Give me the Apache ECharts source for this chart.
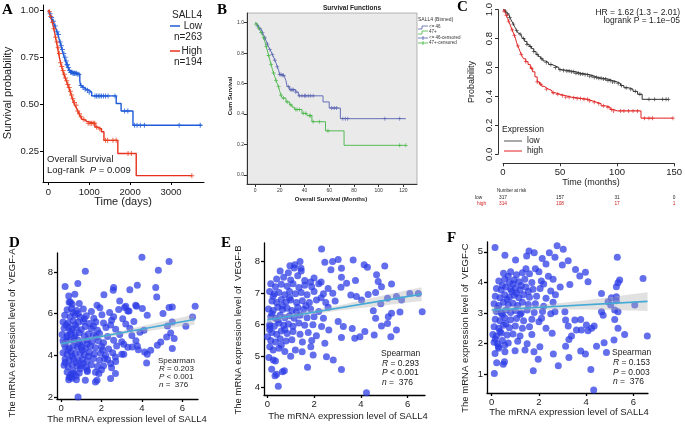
<!DOCTYPE html>
<html><head><meta charset="utf-8">
<script src="https://cdn.jsdelivr.net/npm/echarts@6.0.0/dist/echarts.min.js"></script>
<style>html,body{margin:0;padding:0;background:#fff}#c{width:685px;height:426px}</style>
</head><body><div id="c"></div>
<script>
// ===== Panel A (days, survival) =====
const aLow = [[0,1],[15,0.99],[35,0.98],[55,0.97],[75,0.96],[95,0.95],[115,0.94],[135,0.93],[160,0.915],[185,0.9],[210,0.885],[235,0.87],[260,0.85],[285,0.83],[310,0.81],[335,0.79],[360,0.77],[390,0.75],[420,0.73],[450,0.71],[480,0.695],[510,0.68],[540,0.67],[600,0.665],[700,0.66],[770,0.625],[790,0.6],[820,0.59],[870,0.58],[930,0.575],[1000,0.565],[1060,0.545],[1660,0.505],[1780,0.465],[2070,0.39],[3750,0.39]];
const aHigh = [[0,1],[15,0.99],[35,0.98],[55,0.965],[75,0.95],[95,0.935],[115,0.92],[135,0.9],[155,0.88],[175,0.855],[200,0.83],[225,0.8],[250,0.77],[275,0.745],[300,0.72],[325,0.7],[350,0.68],[380,0.66],[410,0.64],[440,0.625],[470,0.605],[500,0.59],[530,0.57],[560,0.55],[590,0.53],[620,0.51],[650,0.495],[690,0.48],[720,0.465],[750,0.45],[790,0.435],[830,0.42],[880,0.41],[940,0.4],[1140,0.38],[1200,0.37],[1300,0.355],[1360,0.31],[1700,0.24],[2150,0.123],[3510,0.123]];
const aLowCens = [45,80,130,170,215,250,290,320,345,380,410,440,455,470,490,520,545,560,580,600,620,640,660,690,720,750,800,850,900,960,1000,1140,1180,1220,1260,1300,1350,1400,1460,1630,1865,1945,2110,2170,2250,2350,3200,3715];
const aHighCens = [30,60,100,140,180,210,240,270,300,330,360,390,420,450,480,510,540,570,600,640,680,720,760,800,870,975,1020,1060,1100,1135,1180,1260,1400,1450,1580,1660,1950,2030,3510];
const aXTicks = [0,1000,2000,3000];
const aYTicks = [0.25,0.5,0.75,1.0];
const aLegend = ["SALL4","Low","n=263","High","n=194"];

// ===== Panel B (months, cum survival) =====
const bLow = [[0,1],[1,0.99],[2,0.98],[3,0.97],[4,0.96],[5,0.95],[6,0.935],[7,0.92],[8,0.9],[9,0.88],[10,0.86],[11,0.84],[12,0.825],[13,0.81],[14,0.79],[15,0.775],[16,0.755],[17,0.735],[18,0.71],[19,0.69],[20,0.66],[22,0.655],[24,0.64],[25,0.62],[26,0.58],[28,0.56],[33,0.545],[35,0.52],[55,0.48],[60,0.44],[69,0.37],[122,0.37]];
const bHigh = [[0,1],[1,0.99],[2,0.98],[3,0.965],[4,0.95],[5,0.935],[6,0.92],[7,0.9],[8,0.875],[9,0.845],[10,0.815],[11,0.785],[12,0.755],[13,0.725],[14,0.695],[15,0.67],[16,0.645],[17,0.62],[18,0.6],[19,0.58],[20,0.55],[21,0.525],[22,0.505],[25,0.48],[28,0.46],[30,0.445],[32,0.43],[38,0.405],[42,0.39],[46,0.35],[57,0.29],[72,0.195],[122,0.195]];
const bLowCens = [2,4,6,8,10,12,14,16,18,20,21,22,23,27,29,30,31,33,36,38,40,41,43,45,47,62,64,66,71,73,75,105,117];
const bHighCens = [1,3,5,7,9,11,13,15,17,19,21,23,26,29,33,34,36,39,41,44,45,47,52,59,117,122];
const bXTicks = [0,20,40,60,80,100,120];
const bYTicks = [0,0.2,0.4,0.6,0.8,1.0];
const bLegend = ["<= 46","47+","<= 46-censored","47+-censored"];

// ===== Panel C (months, probability) =====
const cLow = [[0,1],[1,0.995],[2,0.99],[3,0.98],[4,0.97],[5,0.96],[6,0.945],[7,0.93],[8,0.915],[9,0.9],[10,0.885],[11,0.87],[12,0.855],[13,0.84],[14,0.83],[15.6,0.82],[17,0.8],[19,0.78],[21,0.76],[23,0.745],[25,0.73],[27,0.71],[29,0.69],[31,0.675],[33,0.66],[35,0.645],[37,0.635],[40,0.62],[43,0.61],[46,0.6],[49,0.585],[52,0.58],[56,0.575],[60,0.57],[64,0.56],[68,0.555],[72,0.55],[76,0.54],[80,0.53],[84,0.525],[88,0.52],[92,0.51],[96,0.5],[100,0.49],[103,0.475],[106,0.46],[110,0.45],[114,0.435],[118,0.415],[122,0.38],[145,0.38]];
const cHigh = [[0,1],[1,0.99],[2,0.975],[3,0.96],[4,0.94],[5,0.92],[6,0.9],[7,0.88],[8,0.86],[9,0.84],[10,0.82],[11,0.8],[12,0.77],[13,0.75],[14,0.73],[15,0.71],[16,0.69],[17,0.675],[18,0.66],[20,0.64],[22,0.62],[24,0.595],[26,0.57],[28,0.535],[30,0.5],[32,0.485],[34,0.47],[36,0.46],[38,0.45],[40,0.44],[43,0.425],[46,0.415],[50,0.405],[55,0.395],[60,0.39],[65,0.385],[70,0.38],[75,0.37],[78,0.36],[82,0.35],[86,0.335],[90,0.325],[94,0.31],[97,0.3],[100,0.3],[121,0.25],[149,0.25]];
const cLowCens = [2,4,6,9,12,15,18,21,24,27,30,34,38,42,46,50,53,56,58,60,62,64,66,68,70,72,74,76,78,80,82,84,86,88,90,92,94,96,98,101,104,108,112,116,120,128,133,140,143,145];
const cHighCens = [1,3,5,8,10,13,16,20,25,30,33,38,44,48,52,55,58,62,65,68,71,74,76,80,84,88,92,95,97,103,106,110,114,118,124,128,131,149];
const cXTicks = [0,50,100,150];
const cYTicks = [0,0.2,0.4,0.6,0.8,1.0];
const riskTimes = [0,50,100,150];
const riskLow = [317,157,31,0];
const riskHigh = [314,108,17,1];

// ===== Panels D, E, F (SALL4 vs VEGF) =====
const scatD = [[4.0,8.7],[5.34,8.5],[4.81,8.08],[1.2,8.03],[0.83,7.44],[0.2,7.3],[2.6,7.25],[2.58,7.12],[3.4,7.15],[3.77,7.36],[4.68,7.25],[4.73,6.8],[0.68,6.93],[0.38,6.85],[2.12,6.9],[0.46,6.56],[0.55,6.45],[0.9,6.48],[1.78,6.4],[2.9,6.6],[3.14,6.29],[3.2,6.35],[3.73,6.35],[3.69,6.4],[4.02,6.24],[3.36,6.13],[4.26,5.92],[5.5,6.32],[5.34,6.29],[6.63,6.35],[5.04,6.0],[6.5,5.84],[6.17,5.39],[5.5,5.6],[5.26,5.4],[5.42,5.07],[5.22,4.88],[5.59,4.8],[5.5,4.32],[4.76,4.48],[4.93,4.64],[4.43,4.24],[4.13,4.16],[4.26,4.05],[4.23,3.63],[3.82,4.27],[3.77,4.45],[3.52,4.4],[3.1,4.53],[3.1,4.05],[2.69,3.92],[2.45,3.6],[2.69,3.12],[2.45,2.88],[1.78,2.8],[1.7,2.72],[1.2,2.8],[0.76,2.83],[0.84,2.0],[0.46,2.96],[0.38,2.83],[1.87,3.12],[1.29,3.28],[0.63,3.12],
[0.3,6.18],[0.52,6.25],[0.78,6.15],[1.1,6.22],[1.5,6.1],[1.92,6.28],[2.4,6.05],[2.85,6.2],[3.3,6.12],
[0.18,5.92],[0.45,5.85],[0.7,5.95],[0.95,5.82],[1.25,5.9],[1.62,5.78],[2.02,5.95],[2.6,5.85],[3.05,5.75],
[0.1,5.6],[0.35,5.55],[0.6,5.65],[0.85,5.58],[1.1,5.62],[1.4,5.52],[1.72,5.6],[2.1,5.55],[2.5,5.68],[3.2,5.5],[3.6,5.62],
[0.15,5.3],[0.38,5.35],[0.55,5.25],[0.75,5.32],[1.0,5.22],[1.2,5.38],[1.5,5.28],[1.8,5.2],[2.22,5.33],[2.7,5.25],[3.4,5.3],[4.1,5.2],
[0.05,5.0],[0.3,4.95],[0.5,5.05],[0.7,4.98],[0.9,5.08],[1.15,4.92],[1.35,5.02],[1.6,4.96],[1.9,5.05],[2.3,4.9],[2.9,5.0],[3.5,4.95],[3.9,5.1],
[0.1,4.7],[0.25,4.65],[0.45,4.75],[0.65,4.68],[0.85,4.72],[1.05,4.62],[1.3,4.75],[1.55,4.66],[1.85,4.7],[2.1,4.6],[2.6,4.72],[3.0,4.65],[3.7,4.7],
[0.2,4.42],[0.4,4.35],[0.6,4.45],[0.8,4.38],[1.0,4.4],[1.2,4.32],[1.45,4.45],[1.7,4.36],[2.0,4.42],[2.35,4.3],[2.75,4.45],[3.3,4.38],
[0.1,4.12],[0.3,4.05],[0.5,4.15],[0.7,4.08],[0.95,4.1],[1.15,4.02],[1.4,4.14],[1.65,4.06],[1.95,4.1],[2.2,4.0],[2.55,4.12],[3.0,4.05],
[0.2,3.82],[0.4,3.75],[0.6,3.85],[0.85,3.78],[1.05,3.8],[1.3,3.72],[1.6,3.85],[1.9,3.76],[2.3,3.8],[2.7,3.7],
[0.15,3.52],[0.35,3.45],[0.55,3.55],[0.8,3.48],[1.0,3.5],[1.25,3.42],[1.5,3.55],[1.8,3.46],[2.1,3.5],[2.5,3.4],
[0.3,3.2],[0.6,3.25],[0.9,3.15],[1.3,3.22],[1.7,3.18],[2.0,3.3],[0.4,2.95],[0.55,2.9],[0.75,3.0],
[0.25,5.45],[0.45,5.15],[0.65,4.85],[0.9,4.55],[0.35,4.25],[0.55,3.95],[0.75,3.65],[1.15,5.75],[0.6,6.05],[0.4,6.55],[0.3,4.88],[0.7,5.45],[1.05,4.25],[1.35,3.95],[0.95,3.35],[0.2,3.65],[0.5,3.1],[0.85,6.0],[1.6,5.4],[1.3,4.55],[1.75,4.9],[2.05,4.25],[2.45,5.45],[2.15,3.85],[0.15,4.55],[1.1,3.6]];
const scatE = [[2.32,8.4],[2.46,7.98],[2.79,8.0],[3.03,8.07],[3.67,8.05],[4.14,7.9],[4.28,7.82],[5.02,7.86],[1.4,8.0],[1.18,7.9],[0.97,7.87],[1.44,7.79],[3.17,7.79],[2.72,7.74],[4.67,7.58],[3.77,7.4],[4.74,7.37],[4.88,7.2],[5.31,7.29],[4.63,7.02],[3.17,7.5],[3.39,7.31],[3.15,7.19],[4.31,6.96],[3.57,6.94],[3.81,6.89],[4.03,6.78],[5.14,6.84],[5.52,6.89],[5.74,6.78],[6.09,6.99],[6.45,6.99],[6.62,6.41],[5.67,6.4],[5.31,6.36],[5.17,6.25],[4.85,6.66],[4.53,6.44],[4.63,6.2],[4.88,5.96],[5.14,6.04],[5.52,5.83],[5.28,5.62],[4.57,5.67],[4.17,5.78],[3.96,5.62],[3.74,5.57],[3.17,5.59],[3.63,5.88],[3.25,5.94],[3.03,6.1],[2.63,5.83],[2.32,5.94],[2.46,5.41],[2.53,4.98],[2.82,4.88],[3.17,4.58],[1.96,5.04],[1.72,4.65],[1.49,5.14],[1.86,5.3],[4.24,3.84],[0.47,4.05],[0.33,4.38],[0.4,4.43],[0.65,4.51],[0.73,4.54],[0.19,4.59],[0.07,4.96],[0.26,4.88],[0.11,5.3],[0.01,5.62],[0.11,5.94],
[0.4,7.45],[0.7,7.5],[1.0,7.42],[1.3,7.55],[1.6,7.4],[2.0,7.48],[2.3,7.35],
[0.15,7.3],[0.35,7.2],[0.6,7.28],[0.85,7.22],[1.1,7.3],[1.35,7.18],[1.6,7.25],[1.9,7.2],[2.2,7.3],[2.6,7.15],
[0.1,7.05],[0.3,6.98],[0.5,7.02],[0.75,6.95],[0.95,7.05],[1.2,6.98],[1.45,7.02],[1.7,6.95],[2.0,7.05],[2.4,6.98],[2.8,7.0],
[0.2,6.75],[0.4,6.7],[0.6,6.8],[0.8,6.72],[1.0,6.78],[1.25,6.7],[1.5,6.76],[1.8,6.7],[2.1,6.78],[2.5,6.7],[2.9,6.75],
[0.05,6.5],[0.25,6.45],[0.45,6.55],[0.65,6.48],[0.85,6.52],[1.05,6.45],[1.3,6.55],[1.55,6.48],[1.85,6.5],[2.2,6.42],[2.6,6.55],
[0.15,6.25],[0.35,6.2],[0.55,6.3],[0.75,6.22],[0.95,6.28],[1.15,6.2],[1.4,6.3],[1.7,6.22],[2.0,6.25],[2.4,6.2],
[0.1,6.0],[0.3,5.95],[0.5,6.05],[0.7,5.98],[0.9,6.02],[1.1,5.95],[1.35,6.05],[1.6,5.98],[1.95,6.0],
[0.2,5.75],[0.4,5.7],[0.6,5.8],[0.85,5.72],[1.1,5.78],[1.4,5.7],[1.75,5.75],[2.1,5.65],
[0.15,5.5],[0.35,5.45],[0.55,5.55],[0.8,5.48],[1.05,5.52],[1.5,5.45],[1.9,5.5],
[0.25,5.2],[0.5,5.25],[0.75,5.15],[1.2,5.2],
[0.55,7.7],[0.9,7.65],[1.45,7.7],[1.15,7.8],[0.25,6.9],[0.65,6.6],[0.45,6.15],[0.75,5.85],[1.25,6.4],[0.95,6.85],[1.65,6.6],[2.3,6.85],[0.2,6.35],[1.85,7.35],[0.6,5.35],[0.35,4.85],[1.0,5.0],[0.1,5.85]];
const scatF = [[0.14,5.14],[0.56,4.89],[1.01,4.73],[1.48,4.86],[1.58,5.03],[1.8,4.97],[2.44,4.97],[2.77,5.2],[3.03,5.08],[2.14,4.78],[2.68,4.82],[2.99,4.57],[3.24,4.71],[3.55,4.42],[3.73,4.21],[3.97,4.33],[4.08,4.02],[3.31,3.93],[5.32,4.82],[5.42,4.08],[5.35,3.99],[5.28,3.86],[6.41,4.13],[4.65,3.64],[5.07,3.5],[5.28,3.53],[5.28,3.4],[5.21,3.1],[5.35,3.04],[5.04,3.26],[4.93,3.37],[4.65,3.04],[4.72,2.93],[5.21,2.79],[5.35,2.5],[6.06,3.26],[5.63,2.3],[6.59,2.25],[5.18,2.12],[4.76,2.03],[4.86,1.71],[4.44,1.92],[4.23,2.5],[4.34,2.58],[4.08,2.42],[4.01,2.61],[3.8,2.45],[3.59,2.45],[3.77,2.79],[3.52,2.77],[3.24,2.58],[3.13,2.77],[3.38,2.25],[3.27,2.14],[3.13,1.92],[3.27,1.55],[3.77,1.76],[3.97,1.66],[4.2,1.16],[4.32,0.49],[2.82,1.28],[2.61,1.66],[2.56,2.34],[2.68,3.04],[3.1,3.04],[1.76,1.12],[1.97,1.49],[1.79,1.74],[2.04,1.9],[1.41,1.79],[0.99,1.77],[0.11,1.03],[0.21,1.38],[0.49,1.33],[0.54,1.41],[0.56,1.74],[0.14,1.68],[0.28,1.9],[2.11,2.83],
[0.5,4.3],[0.8,4.35],[1.05,4.25],[1.3,4.32],[1.6,4.28],[2.0,4.35],[2.4,4.2],
[0.3,4.05],[0.55,4.1],[0.75,4.0],[0.95,4.08],[1.15,4.02],[1.4,4.1],[1.7,4.0],[2.1,4.05],[2.6,4.1],
[0.2,3.8],[0.4,3.75],[0.6,3.85],[0.8,3.78],[1.0,3.82],[1.2,3.75],[1.45,3.85],[1.75,3.78],[2.05,3.8],[2.5,3.72],[2.9,3.85],
[0.15,3.55],[0.35,3.5],[0.55,3.6],[0.75,3.52],[0.95,3.58],[1.15,3.5],[1.35,3.6],[1.6,3.52],[1.9,3.55],[2.3,3.48],[2.7,3.6],
[0.1,3.3],[0.3,3.25],[0.5,3.35],[0.7,3.28],[0.9,3.32],[1.1,3.25],[1.3,3.35],[1.55,3.28],[1.85,3.3],[2.2,3.22],[2.6,3.35],
[0.2,3.05],[0.4,3.0],[0.6,3.1],[0.8,3.02],[1.0,3.08],[1.25,3.0],[1.5,3.1],[1.8,3.02],[2.15,3.05],[2.5,2.98],
[0.15,2.8],[0.35,2.75],[0.55,2.85],[0.8,2.78],[1.05,2.82],[1.35,2.75],[1.7,2.8],[2.0,2.72],
[0.1,2.55],[0.3,2.5],[0.5,2.6],[0.75,2.52],[1.0,2.58],[1.3,2.5],[1.6,2.55],[2.3,2.5],
[0.05,2.3],[0.2,2.25],[0.4,2.35],[0.65,2.28],[0.9,2.32],[1.2,2.25],[1.7,2.3],
[0.1,2.05],[0.25,2.0],[0.45,2.1],[0.7,2.02],[1.1,2.08],[1.5,2.0],
[0.7,4.2],[0.9,3.95],[1.05,3.65],[0.65,3.45],[0.85,3.7],[1.25,3.9],[0.45,3.9],[1.55,3.7],[0.25,3.15],[0.45,2.95],[1.2,2.95],[0.6,2.65],[0.35,2.4],[0.15,2.15],[0.3,1.85],[0.55,1.95],[1.45,4.45],[1.85,4.45],[2.3,4.6],[2.2,3.95]];
// fitted lines and confidence bands
const regD = [[0,4.55],[6.6,5.72]];
const regE = [[0,6.15],[6.6,6.97]];
const regF = [[0,3.10],[6.6,3.38]];
const bandX = [0,1,2,3,4,5,6,6.6];
const bandDLo = [4.42,4.64,4.82,4.98,5.12,5.26,5.39,5.47];
const bandDHi = [4.68,4.82,4.98,5.18,5.40,5.62,5.83,5.97];
const bandELo = [6.04,6.20,6.33,6.44,6.53,6.61,6.70,6.75];
const bandEHi = [6.26,6.34,6.47,6.60,6.77,6.93,7.10,7.19];
const bandFLo = [2.98,3.06,3.10,3.12,3.12,3.10,3.08,3.07];
const bandFHi = [3.22,3.22,3.26,3.34,3.42,3.52,3.62,3.68];
const dYTicks = [2,4,6,8], eYTicks = [4,5,6,7,8], fYTicks = [1,2,3,4,5];
const sXTicks = [0,2,4,6];
const statsD = ["0.203","< 0.001","376"];
const statsE = ["0.293","< 0.001","376"];
const statsF = ["0.153","= 0.003","376"];

// ===== build =====
const SANS = 'Liberation Sans, Arial, sans-serif';
const chart = echarts.init(document.getElementById('c'), null, {renderer:'canvas'});
function survAt(steps, t){ let s = steps[0][1]; for (const p of steps){ if (p[0] <= t) s = p[1]; else break; } return s; }
const PLUS = 'path://M4,0h2v10h-2zM0,4h10v2h-10z';
function km(steps, i, color, w){ return {type:'line', xAxisIndex:i, yAxisIndex:i, data:steps, step:'end', symbol:'none', showSymbol:false, lineStyle:{color, width:w}, silent:true, animation:false, z:3}; }
function cens(steps, times, i, color, size){ return {type:'scatter', xAxisIndex:i, yAxisIndex:i, data:times.map(t=>[t, survAt(steps,t)]), symbol:PLUS, symbolSize:size, itemStyle:{color}, silent:true, animation:false, z:4}; }
function scat(data, i){ return {type:'scatter', xAxisIndex:i, yAxisIndex:i, data, symbolSize:7, itemStyle:{color:'#2B3BE6', opacity:0.74}, silent:true, animation:false, z:2}; }
function reg(data, i){ return {type:'line', xAxisIndex:i, yAxisIndex:i, data, symbol:'none', lineStyle:{color:'#45AAD6', width:1.6}, silent:true, animation:false, z:5}; }
function band(lo, hi, i){ return {type:'custom', xAxisIndex:i, yAxisIndex:i, data:[[0,0]], silent:true, animation:false, z:4, clip:false,
  renderItem:(p, api)=>{ const pts=[]; for(let k=0;k<bandX.length;k++) pts.push(api.coord([bandX[k], hi[k]])); for(let k=bandX.length-1;k>=0;k--) pts.push(api.coord([bandX[k], lo[k]])); return {type:'polygon', shape:{points:pts}, style:{fill:'rgba(175,175,175,0.38)'}}; } }; }

function axis(o){
  return Object.assign({type:'value', splitLine:{show:false},
    axisLine:{show:true, onZero:false, lineStyle:{color:o.lc||'#000', width:o.lw||1}},
    axisTick:{show:true, inside:false, length:o.tl||3, customValues:o.ticks, lineStyle:{color:o.lc||'#000', width:o.lw||1}},
    axisLabel:{customValues:o.ticks, fontSize:o.fs||9, color:o.color||'#222', fontFamily:SANS, margin:o.margin||4, rotate:o.rotate||0, formatter:o.fmt||(v=>String(v))}
  }, o.extra||{});
}

const grids = [
  {left:43, top:5, width:161, height:177},
  {left:247, top:13, width:170, height:171, show:true, backgroundColor:'#EAEAEA', borderColor:'#888', borderWidth:0.6},
  {left:503, top:9.3, width:176, height:145},
  {left:57, top:253, width:141, height:146},
  {left:264, top:243, width:161, height:152},
  {left:487, top:242, width:161, height:151}
];
const xAxes = [
  axis({ticks:aXTicks, fs:9.5, margin:5, extra:{gridIndex:0, min:-130, max:3807}}),
  axis({ticks:bXTicks, fs:5, margin:4, lc:'#333', color:'#333', fmt:v=>String(v), extra:{gridIndex:1, min:-6.5, max:131}}),
  axis({ticks:cXTicks, fs:9.5, margin:4, lc:'#333', color:'#222', extra:{gridIndex:2, min:0, max:150, offset:9}}),
  axis({ticks:sXTicks, fs:9.5, margin:4, lw:1.3, extra:{gridIndex:3, min:-0.2, max:6.77}}),
  axis({ticks:sXTicks, fs:9.5, margin:4, lw:1.3, extra:{gridIndex:4, min:-0.14, max:6.74}}),
  axis({ticks:sXTicks, fs:9.5, margin:4, lw:1.3, extra:{gridIndex:5, min:-0.2, max:6.62}})
];
const yAxes = [
  axis({ticks:aYTicks, fs:9.5, margin:4, fmt:v=>v.toFixed(2), extra:{gridIndex:0, min:0.0895, max:1.026}}),
  axis({ticks:bYTicks, fs:5, margin:3, lc:'#333', color:'#333', fmt:v=>v.toFixed(1), extra:{gridIndex:1, min:-0.059, max:1.064}}),
  axis({ticks:cYTicks, fs:9.5, margin:4, rotate:90, lc:'#333', fmt:v=>v.toFixed(1), extra:{gridIndex:2, min:0, max:1, offset:5}}),
  axis({ticks:dYTicks, fs:9.5, margin:4, lw:1.3, extra:{gridIndex:3, min:1.9, max:8.91}}),
  axis({ticks:eYTicks, fs:9.5, margin:4, lw:1.3, extra:{gridIndex:4, min:3.77, max:8.59}}),
  axis({ticks:fYTicks, fs:9.5, margin:4, lw:1.3, extra:{gridIndex:5, min:0.39, max:5.32}})
];

const series = [
  km(aLow,0,'#1F5BD8',1.4), km(aHigh,0,'#E8301E',1.4),
  cens(aLow,aLowCens,0,'#1F5BD8',5), cens(aHigh,aHighCens,0,'#E8401E',5),
  km(bLow,1,'#5560B0',0.9), km(bHigh,1,'#45B545',0.9),
  cens(bLow,bLowCens,1,'#5560B0',4), cens(bHigh,bHighCens,1,'#45B545',4),
  km(cLow,2,'#333333',1), km(cHigh,2,'#E02020',1),
  cens(cLow,cLowCens,2,'#333333',4), cens(cHigh,cHighCens,2,'#E02020',4),
  scat(scatD,3), band(bandDLo,bandDHi,3), reg(regD,3),
  scat(scatE,4), band(bandELo,bandEHi,4), reg(regE,4),
  scat(scatF,5), band(bandFLo,bandFHi,5), reg(regF,5)
];

function T(x, y, text, o){ o=o||{};
  return {type:'text', x, y, rotation:o.rot||0, silent:true, z:10,
    style:{text, fontSize:o.fs||10, fontFamily:o.ff||SANS, fontWeight:o.fw||'normal', fontStyle:o.fst||'normal', fill:o.fill||'#222',
      align:o.align||'left', verticalAlign:o.va||'middle', rich:o.rich}}; }
function L(x1,y1,x2,y2,color,w){ return {type:'line', silent:true, z:10, shape:{x1,y1,x2,y2}, style:{stroke:color, lineWidth:w||1.2}}; }
const SERIF = 'Liberation Serif, Times New Roman, serif';

chart.setOption({animation:false, grid:grids, xAxis:xAxes, yAxis:yAxes, series});

const g = [];
// panel letters
g.push(T(2,10,'A',{fs:15,ff:SERIF,fw:'bold',fill:'#000'}));
g.push(T(217,10,'B',{fs:15,ff:SERIF,fw:'bold',fill:'#000'}));
g.push(T(457,7,'C',{fs:15,ff:SERIF,fw:'bold',fill:'#000'}));
g.push(T(9,243,'D',{fs:15,ff:SERIF,fw:'bold',fill:'#000'}));
g.push(T(221,243,'E',{fs:15,ff:SERIF,fw:'bold',fill:'#000'}));
g.push(T(447,238,'F',{fs:15,ff:SERIF,fw:'bold',fill:'#000'}));
// A
g.push(T(8,93,'Survival probability',{fs:11,rot:Math.PI/2,align:'center'}));
g.push(T(123,202,'Time (days)',{fs:11,align:'center'}));
g.push(T(202,15,aLegend[0],{fs:10,align:'right'}));
g.push(L(170,26,180,26,'#1F5BD8',1.5)); g.push(T(202,26,aLegend[1],{fs:10,align:'right'}));
g.push(T(202,37,aLegend[2],{fs:10,align:'right'}));
g.push(L(170,51,180,51,'#E8301E',1.5)); g.push(T(202,51,aLegend[3],{fs:10,align:'right'}));
g.push(T(202,62,aLegend[4],{fs:10,align:'right'}));
g.push(T(47,159,'Overall Survival',{fs:9.5}));
g.push(T(47,170,'Log-rank  {i|P} = 0.009',{fs:9.5,rich:{i:{fontStyle:'italic',fontSize:9.5}}}));
// B
g.push(T(352,8,'Survival Functions',{fs:6.5,fw:'bold',align:'center'}));
g.push(T(230,96,'Cum Survival',{fs:6,fw:'bold',rot:Math.PI/2,align:'center'}));
g.push(T(331,199,'Overall Survival (Months)',{fs:6,fw:'bold',align:'center'}));
g.push(T(418,20,'SALL4 (Binned)',{fs:5,fill:'#333'}));
g.push({type:'polyline',silent:true,z:10,shape:{points:[[418,29],[422,29],[422,26],[428,26]]},style:{stroke:'#5560B0',lineWidth:0.8,fill:null}});
g.push(T(429,27,bLegend[0],{fs:4.5,fill:'#333'}));
g.push({type:'polyline',silent:true,z:10,shape:{points:[[418,34],[422,34],[422,31],[428,31]]},style:{stroke:'#45B545',lineWidth:0.8,fill:null}});
g.push(T(429,32,bLegend[1],{fs:4.5,fill:'#333'}));
g.push(L(418,38,428,38,'#5560B0',0.8)); g.push(L(423,36,423,40,'#5560B0',0.8));
g.push(T(429,38,bLegend[2],{fs:4.5,fill:'#333'}));
g.push(L(418,43,428,43,'#45B545',0.8)); g.push(L(423,41,423,45,'#45B545',0.8));
g.push(T(429,43,bLegend[3],{fs:4.5,fill:'#333'}));
// C
g.push(T(472,82,'Probability',{fs:9,rot:Math.PI/2,align:'center'}));
g.push(T(591,183,'Time (months)',{fs:9,align:'center'}));
g.push(T(680,13,'HR = 1.62 (1.3 \u2212 2.01)',{fs:8.5,align:'right'}));
g.push(T(680,21,'logrank P = 1.1e\u221205',{fs:8.5,align:'right'}));
g.push(T(502,130,'Expression',{fs:8.5}));
g.push(L(504,141,522,141,'#555',1)); g.push(T(527,141,'low',{fs:8.5}));
g.push(L(504,151,522,151,'#E02020',1)); g.push(T(527,151,'high',{fs:8.5}));
g.push(T(497,191,'Number at risk',{fs:4.5}));
g.push(T(475,197.5,'low',{fs:4.8}));
g.push(T(477,204,'high',{fs:4.8,fill:'#D02020'}));
riskTimes.forEach((t,k)=>{
  const px = chart.convertToPixel({xAxisIndex:2}, t);
  g.push(T(px,197.5,String(riskLow[k]),{fs:4.8,align:'center'}));
  g.push(T(px,204,String(riskHigh[k]),{fs:4.8,align:'center',fill:'#D02020'}));
});
// D E F
const ylabs = [['The mRNA expression level of  VEGF-A',12,333],['The mRNA expression level of  VEGF-B',238,330],['The mRNA expression level of  VEGF-C',465,328]];
ylabs.forEach(a=>g.push(T(a[1],a[2],a[0],{fs:9.5,rot:Math.PI/2,align:'center'})));
[[127,419],[348,416],[569,412]].forEach(a=>g.push(T(a[0],a[1],'The mRNA expression level of SALL4',{fs:9.5,align:'center'})));
function stats(x,y,s,fs,dy){
  g.push(T(x,y,'Spearman',{fs}));
  g.push(T(x+1,y+dy,'{i|R} = '+s[0],{fs,rich:{i:{fontStyle:'italic',fontSize:fs}}}));
  g.push(T(x+1,y+2*dy,'{i|P} '+s[1],{fs,rich:{i:{fontStyle:'italic',fontSize:fs}}}));
  g.push(T(x+1,y+3*dy,'{i|n} =  '+s[2],{fs,rich:{i:{fontStyle:'italic',fontSize:fs}}}));
}
stats(158,361,statsD,8,8);
stats(381,354,statsE,8.5,9.5);
stats(612,353,statsF,8.5,9.7);

chart.setOption({graphic:g});
</script></body></html>
